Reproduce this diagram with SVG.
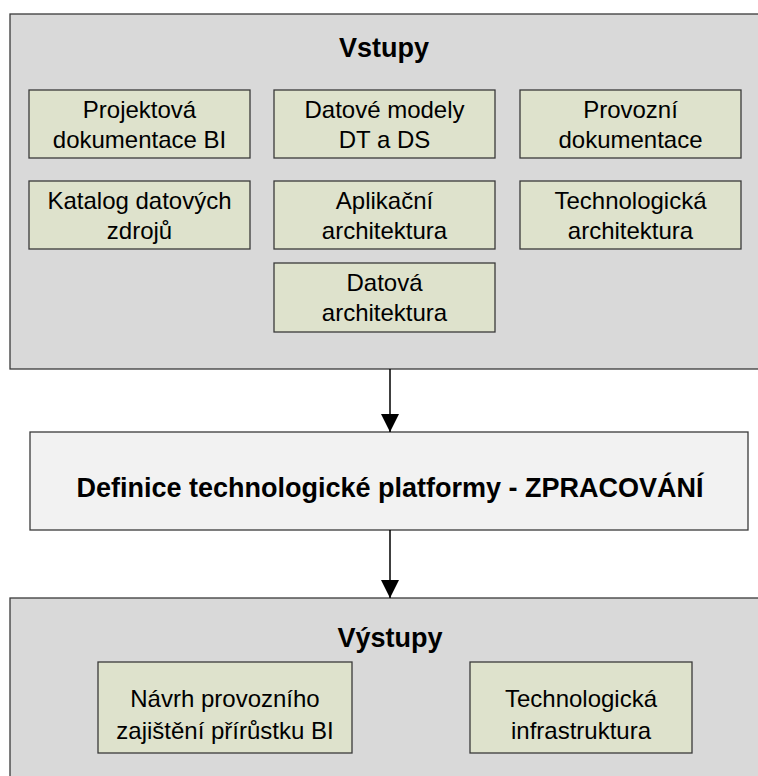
<svg xmlns="http://www.w3.org/2000/svg" width="758" height="776" viewBox="0 0 758 776">
<style>
.outer{fill:#d9d9d9;stroke:#3a3a3a;stroke-width:1.3}
.mid{fill:#f2f2f2;stroke:#3a3a3a;stroke-width:1.3}
.item{fill:#dee2cc;stroke:#3a3a3a;stroke-width:1.3}
text{font-family:"Liberation Sans",Arial,sans-serif;fill:#000;text-anchor:middle}
.t{font-size:24px}
.h{font-size:27px;font-weight:bold}
.conn{stroke:#000;stroke-width:1.5;fill:none}
</style>
<defs>
<marker id="arr" markerWidth="18" markerHeight="18" refX="18" refY="9" orient="auto" markerUnits="userSpaceOnUse">
<path d="M0,0 L18,9 L0,18 Z" fill="#000"/>
</marker>
</defs>
<rect width="758" height="776" fill="#fff"/>
<g id="vstupy">
<rect class="outer" x="10" y="14" width="760" height="355"/>
<text class="h" x="384" y="57">Vstupy</text>
</g>
<g id="projektova">
<rect class="item" x="29" y="90" width="221" height="68"/>
<text class="t" x="139.5" y="118">Projektová</text>
<text class="t" x="139.5" y="148">dokumentace BI</text>
</g>
<g id="datove-modely">
<rect class="item" x="274" y="90" width="221" height="68"/>
<text class="t" x="384.5" y="118">Datové modely</text>
<text class="t" x="384.5" y="148">DT a DS</text>
</g>
<g id="provozni">
<rect class="item" x="520" y="90" width="221" height="68"/>
<text class="t" x="630.5" y="118">Provozní</text>
<text class="t" x="630.5" y="148">dokumentace</text>
</g>
<g id="katalog">
<rect class="item" x="29" y="181" width="221" height="68"/>
<text class="t" x="139.5" y="209">Katalog datových</text>
<text class="t" x="139.5" y="239">zdrojů</text>
</g>
<g id="aplikacni">
<rect class="item" x="274" y="181" width="221" height="68"/>
<text class="t" x="384.5" y="209">Aplikační</text>
<text class="t" x="384.5" y="239">architektura</text>
</g>
<g id="technologicka-arch">
<rect class="item" x="520" y="181" width="221" height="68"/>
<text class="t" x="630.5" y="209">Technologická</text>
<text class="t" x="630.5" y="239">architektura</text>
</g>
<g id="datova">
<rect class="item" x="274" y="263" width="221" height="69"/>
<text class="t" x="384.5" y="291">Datová</text>
<text class="t" x="384.5" y="321">architektura</text>
</g>
<g id="zpracovani">
<rect class="mid" x="30" y="432" width="718" height="98"/>
<text class="h" x="390" y="497">Definice technologické platformy - ZPRACOVÁNÍ</text>
</g>
<g id="vystupy">
<rect class="outer" x="10" y="598" width="760" height="190"/>
<text class="h" x="390" y="647">Výstupy</text>
</g>
<g id="navrh">
<rect class="item" x="98" y="662" width="254" height="91"/>
<text class="t" x="225" y="707">Návrh provozního</text>
<text class="t" x="225" y="739">zajištění přírůstku BI</text>
</g>
<g id="infrastruktura">
<rect class="item" x="470" y="662" width="222" height="91"/>
<text class="t" x="581" y="707">Technologická</text>
<text class="t" x="581" y="739">infrastruktura</text>
</g>
<g id="connectors">
<line class="conn" x1="390" y1="369" x2="390" y2="432" marker-end="url(#arr)"/>
<line class="conn" x1="390" y1="530" x2="390" y2="598" marker-end="url(#arr)"/>
</g>
</svg>
